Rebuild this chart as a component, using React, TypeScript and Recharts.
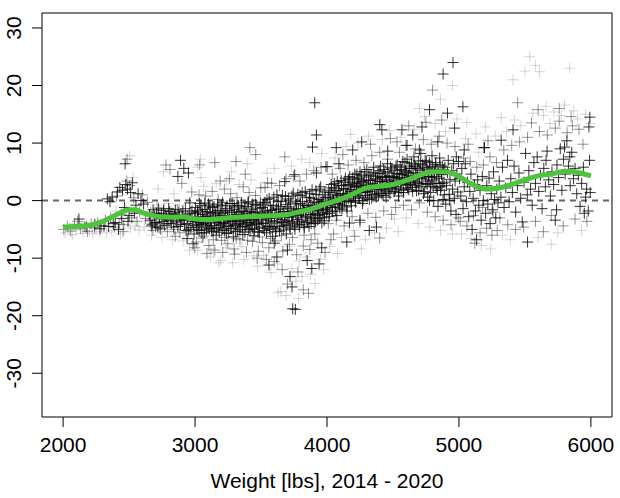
import React from "react";
import { ComposedChart, Scatter, Line, XAxis, YAxis, ReferenceArea } from "recharts";

type P = [number, number];

const xTicks = [2000, 3000, 4000, 5000, 6000];
const yTicks = [-30, -20, -10, 0, 10, 20, 30];
const xLabel = "Weight [lbs], 2014 - 2020";

// smoothed trend (green curve)
const trendX = [2000, 2100, 2200, 2300, 2400, 2500, 2550, 2600, 2700, 2800, 2900, 3000, 3100, 3200, 3300, 3400, 3500, 3600, 3700, 3800, 3900, 4000, 4100, 4200, 4300, 4400, 4500, 4600, 4700, 4800, 4900, 5000, 5100, 5200, 5300, 5400, 5500, 5600, 5700, 5800, 5900, 6000];
const trendY = [-4.6, -4.5, -4.3, -3.6, -2.5, -1.6, -1.6, -2.1, -2.7, -2.9, -2.8, -3.2, -3.3, -3.1, -2.9, -2.8, -2.7, -2.6, -2.4, -1.9, -1.3, -0.5, 0.2, 1.2, 2.2, 2.5, 2.8, 3.5, 4.4, 5.0, 5.0, 4.2, 2.8, 2.0, 2.2, 2.8, 3.6, 4.3, 4.6, 5.1, 4.9, 4.3];

// ---- dark points ----
const darkLow: P[] = [
  [2120,-3.2],[2175,-4.6],[2240,-4.1],[2280,-4.9],
  [2310,-4.4],[2335,0.3],[2355,-0.2],[2372,0.6],[2395,-3.8],[2412,1.5],[2430,2.3],[2450,1.8],[2465,-1.2],[2475,2.8],[2488,2.0],[2500,-2.6],[2512,1.4],[2525,3.1],[2540,-2.2],[2552,-0.8],[2568,1.2],[2590,0.0],[2610,-0.6],[2345,-4.5],[2380,-4.0],[2420,-5.0],[2445,-3.1],[2470,6.4],[2492,-3.6],
  [2660,-3.4],[2675,-4.1],[2690,-2.6],[2705,-3.8],[2718,-4.6],[2730,-3.0],[2745,-2.2],[2758,-3.6],[2770,-4.3],[2783,-2.8],[2795,-3.3],[2808,-1.9],[2820,-4.0],[2833,-3.1],[2845,-2.4],[2858,-3.7],[2870,-4.5],[2882,-2.7],[2895,-3.4],[2908,-1.8],[2920,-4.1],[2932,-5.2],[2945,-3.0],[2956,-2.3],[2968,-4.7],[2980,-3.6],[2992,-5.8],[2940,-6.6],[2985,-7.5],[2960,-0.4],[2950,4.8],[2890,7.0],[2915,5.6],[2870,4.2],
];
const darkCore: P[] = [
  [3005,-3.1],[3012,-4.6],[3018,-1.8],[3025,-2.9],[3031,-5.2],[3038,-3.8],[3044,-0.9],[3050,-4.1],[3057,-2.4],[3063,-3.3],[3070,-5.6],[3076,-1.5],[3083,-4.4],[3089,-2.7],[3096,-3.6],[3102,-0.6],[3108,-4.9],[3115,-2.1],[3121,-3.9],[3128,-5.4],[3134,-1.2],[3141,-3.0],[3147,-4.3],[3154,-2.5],[3160,-6.0],[3167,-3.5],[3173,-1.7],[3180,-4.7],[3186,-2.9],[3193,-3.8],[3199,-0.8],[3206,-5.1],[3212,-2.2],[3219,-4.0],[3225,-3.2],[3232,-1.4],[3238,-5.7],[3245,-2.6],[3251,-4.5],[3258,-3.4],[3264,-0.5],[3271,-4.8],[3277,-2.0],[3284,-3.7],[3290,-6.3],[3297,-1.1],[3303,-3.1],[3310,-4.2],[3316,-2.4],[3323,-5.3],[3329,-0.9],[3336,-3.6],[3342,-4.6],[3349,-1.9],[3355,-2.8],[3362,-5.9],[3368,-3.3],[3375,-1.3],[3381,-4.4],[3388,-2.3],[3394,-3.9],[3401,-0.4],[3407,-5.0],[3414,-2.7],[3420,-3.5],[3427,-1.6],[3433,-4.8],[3440,-2.1],[3446,-6.1],[3453,-3.2],[3459,-0.7],[3466,-4.1],[3472,-2.5],[3479,-3.7],[3485,-5.5],[3492,-1.4],
  [3503,-3.4],[3510,-1.2],[3516,-4.8],[3523,-2.5],[3529,-0.3],[3536,-3.9],[3542,-5.6],[3549,-2.0],[3555,-3.1],[3562,0.4],[3568,-4.5],[3575,-1.7],[3581,-2.9],[3588,-6.2],[3594,-0.8],[3601,-3.6],[3607,-2.2],[3614,-4.9],[3620,1.0],[3627,-3.0],[3633,-1.5],[3640,-5.3],[3646,-2.6],[3653,-0.1],[3659,-3.8],[3666,-1.9],[3672,-4.3],[3679,-2.8],[3685,0.7],[3692,-5.8],[3698,-2.3],[3705,-3.5],[3711,-1.1],[3718,-4.6],[3724,-0.4],[3731,-2.7],[3737,-3.9],[3744,1.3],[3750,-1.8],[3757,-5.0],[3763,-2.4],[3770,-0.6],[3776,-3.3],[3783,-1.4],[3789,-4.2],[3796,0.9],[3802,-2.1],[3809,-3.6],[3815,-0.2],[3822,-1.6],[3828,-4.7],[3835,1.6],[3841,-2.8],[3848,-0.8],[3854,-3.4],[3861,-1.2],[3867,0.5],[3874,-2.4],[3880,-4.0],[3887,1.9],[3893,-1.0],[3900,-2.9],[3906,-0.3],[3913,-3.7],[3919,1.1],[3926,-1.7],[3932,-2.6],[3939,0.2],[3945,-3.1],[3952,2.4],[3958,-0.9],[3965,-2.0],[3971,-0.1],[3978,-3.5],[3984,1.5],[3991,-1.3],[3997,-2.3],
  [3720,-13.2],[3735,-15.0],[3740,-18.8],[3760,-18.9],[3907,17.0],[3920,11.4],[3890,9.3],[3680,3.3],[3755,4.5],[3920,4.8],[3850,-10.4],[3885,-11.8],[3940,-11.0],[3620,-9.8],[3560,-11.2],[3600,-7.4],[3700,-8.6],[3960,-8.2],
];
const darkFillA: P[] = [
  [2655,-2.4],[2668,-4.4],[2682,-1.6],[2694,-3.9],[2708,-2.2],[2721,-1.3],[2735,-4.8],[2748,-3.2],[2761,-1.7],[2774,-2.5],[2787,-4.0],[2800,-1.4],[2812,-3.5],[2825,-2.2],[2838,-4.6],[2851,-1.6],[2863,-3.0],[2876,-2.0],[2889,-4.2],[2901,-2.5],[2914,-3.3],[2927,-1.4],[2939,-4.0],[2952,-5.0],[2964,-3.1],[2977,-1.8],[2989,-4.3],[2998,-2.2],
  [3003,-1.2],[3009,-3.6],[3016,-5.0],[3022,-2.0],[3028,-4.2],[3035,-0.5],[3041,-3.0],[3047,-5.6],[3054,-1.6],[3060,-4.0],[3067,-2.8],[3073,-0.4],[3079,-3.5],[3086,-5.1],[3092,-1.9],[3099,-4.6],[3105,-2.9],[3112,-0.9],[3118,-3.3],[3125,-4.8],[3131,-2.2],[3138,-5.3],[3144,-1.0],[3151,-3.7],[3157,-2.0],[3164,-4.9],[3170,-0.6],[3177,-3.1],[3183,-5.5],[3190,-1.8],[3196,-4.2],[3203,-2.6],[3209,-0.3],[3216,-3.9],[3222,-5.2],[3229,-2.0],[3235,-4.4],[3242,-0.9],[3248,-3.0],[3255,-5.6],[3261,-1.7],[3268,-3.6],[3274,-4.9],[3281,-0.5],[3287,-2.5],[3294,-4.3],[3300,-1.5],[3307,-5.4],[3313,-3.2],[3320,-0.8],[3326,-4.0],[3333,-2.1],[3339,-5.0],[3346,-3.4],[3352,-0.4],[3359,-4.5],[3365,-1.8],[3372,-3.0],[3378,-5.5],[3385,-1.0],[3391,-4.1],[3398,-2.6],[3404,-0.2],[3411,-3.8],[3417,-5.3],[3424,-1.9],[3430,-4.3],[3437,-0.6],[3443,-3.3],[3450,-5.0],[3456,-2.0],[3463,-3.9],[3469,-0.9],[3476,-5.4],[3482,-2.8],[3489,-4.6],[3495,-0.3],
];
const darkFillB: P[] = [
  [3506,-2.2],[3513,-4.0],[3519,-0.6],[3526,-5.2],[3532,-1.8],[3539,-3.2],[3545,0.2],[3552,-4.4],[3558,-2.6],[3565,-5.0],[3571,-0.9],[3578,-3.5],[3584,-1.6],[3591,-4.7],[3597,0.6],[3604,-2.9],[3610,-5.4],[3617,-1.3],[3623,-3.9],[3630,-0.2],[3636,-2.4],[3643,-4.5],[3649,-1.0],[3656,-3.3],[3662,0.9],[3669,-5.1],[3675,-2.0],[3682,-3.7],[3688,-0.7],[3695,-4.1],[3701,-1.4],[3708,0.3],[3714,-2.9],[3721,-4.9],[3727,-1.9],[3734,0.8],[3740,-3.6],[3747,-2.2],[3753,-4.4],[3760,-0.1],[3766,-1.6],[3773,-3.9],[3779,1.1],[3786,-2.6],[3792,-4.6],[3799,-0.5],[3805,-3.0],[3812,1.4],[3818,-1.9],[3825,-4.2],[3831,-0.9],[3838,-2.5],[3844,0.6],[3851,-3.8],[3857,-1.5],[3864,-4.5],[3870,1.2],[3877,-0.8],[3883,-3.1],[3890,-1.8],[3896,0.4],[3903,-4.0],[3909,-2.2],[3916,1.7],[3922,-0.6],[3929,-3.4],[3935,-1.3],[3942,2.0],[3948,-2.4],[3955,-0.2],[3961,-3.9],[3968,1.0],[3974,-1.6],[3981,-2.9],[3987,0.5],[3994,-0.9],
];
const darkHigh: P[] = [
  [4003,-1.6],[4009,0.6],[4016,-2.8],[4022,1.4],[4029,-0.4],[4035,2.2],[4042,-1.9],[4048,0.1],[4055,3.0],[4061,-1.1],[4068,1.7],[4074,-2.6],[4081,0.9],[4087,2.6],[4094,-0.7],[4100,1.2],[4107,3.5],[4113,-1.5],[4120,0.4],[4126,2.1],[4133,-0.2],[4139,3.9],[4146,1.0],[4152,-1.8],[4159,2.8],[4165,0.3],[4172,4.2],[4178,1.6],[4185,-0.9],[4191,3.2],[4198,0.8],[4204,2.4],[4211,4.6],[4217,-0.3],[4224,1.9],[4230,3.6],[4237,0.6],[4243,2.9],[4250,5.0],[4256,1.4],[4263,3.3],[4269,-0.5],[4276,2.2],[4282,4.1],[4289,0.9],[4295,2.7],[4302,5.4],[4308,1.6],[4315,3.5],[4321,0.2],[4328,2.5],[4334,4.4],[4341,1.1],[4347,3.0],[4354,5.8],[4360,1.9],[4367,3.8],[4373,0.6],[4380,2.4],[4386,4.7],[4393,1.3],[4399,3.3],[4406,6.0],[4412,2.0],[4419,4.0],[4425,0.9],[4432,2.8],[4438,5.0],[4445,1.7],[4451,3.6],[4458,6.4],[4464,2.3],[4471,4.3],[4477,1.2],[4484,3.1],[4490,5.5],[4497,2.6],
  [4070,9.2],[4195,8.8],[4263,10.2],[4400,13.2],[4416,12.3],[4000,5.9],[4150,-7.2],[4375,-4.6],[4170,-3.9],[4320,-5.2],[4250,-3.4],[4460,8.6],[4090,6.4],
  [4503,4.2],[4510,1.6],[4516,3.3],[4523,6.0],[4529,2.4],[4536,4.7],[4542,0.8],[4549,3.8],[4555,5.8],[4562,2.0],[4568,4.5],[4575,6.8],[4581,1.4],[4588,3.6],[4594,5.2],[4601,2.7],[4607,7.2],[4614,4.0],[4620,1.9],[4627,5.6],[4633,3.1],[4640,6.5],[4646,2.3],[4653,4.8],[4659,7.6],[4666,3.4],[4672,5.9],[4679,1.7],[4685,4.4],[4692,6.9],[4698,2.9],[4705,5.3],[4711,8.2],[4718,3.8],[4724,6.2],[4731,1.2],[4737,4.6],[4744,7.0],[4750,3.0],[4757,5.5],[4763,0.6],[4770,4.2],[4776,6.6],[4783,2.5],[4789,5.0],[4796,7.8],[4802,3.6],[4809,0.0],[4815,4.8],[4822,6.3],[4828,2.2],[4835,5.4],[4841,-1.0],[4848,3.9],[4854,7.4],[4861,1.8],[4867,4.5],[4874,6.0],[4880,0.2],[4887,3.2],[4893,5.8],[4900,-0.6],[4906,2.6],[4913,4.9],[4919,7.0],[4926,1.1],[4932,3.7],[4939,-1.8],[4945,5.2],[4952,2.0],[4958,6.4],[4965,0.4],[4971,3.4],[4978,-2.4],[4984,4.6],[4991,1.5],[4997,6.8],
  [4568,12.3],[4650,11.4],[4700,8.8],[4777,15.8],[4913,15.2],[4967,12.6],[4880,22.0],[4955,24.0],[4980,7.6],[4777,0.0],[4930,0.0],[4600,9.6],[4840,10.2],[4720,12.8],
];
const darkFillC: P[] = [
  [4006,-0.8],[4013,1.8],[4019,-2.2],[4026,0.3],[4032,2.8],[4039,-1.2],[4045,1.0],[4052,-0.2],[4058,2.2],[4065,-1.8],[4071,0.6],[4078,3.3],[4084,-0.5],[4091,1.8],[4097,-1.3],[4104,0.2],[4110,2.6],[4117,-0.9],[4123,1.2],[4130,3.2],[4136,0.0],[4143,2.0],[4149,-1.1],[4156,1.3],[4162,3.7],[4169,0.8],[4175,2.6],[4182,-0.2],[4188,1.9],[4195,4.0],[4201,1.0],[4208,3.0],[4214,0.0],[4221,2.4],[4227,4.6],[4234,1.6],[4240,3.8],[4247,0.4],[4253,2.6],[4260,4.4],[4266,1.8],[4273,0.0],[4279,3.2],[4286,5.0],[4292,1.4],[4299,3.6],[4305,0.6],[4312,2.6],[4318,4.6],[4325,1.6],[4331,3.5],[4338,0.4],[4344,2.2],[4351,4.9],[4357,2.8],[4364,1.0],[4370,4.2],[4377,2.0],[4383,3.6],[4390,0.8],[4396,5.2],[4403,2.4],[4409,4.0],[4416,1.2],[4422,3.3],[4429,5.4],[4435,2.0],[4442,4.2],[4448,0.6],[4455,2.8],[4461,4.8],[4468,1.5],[4474,3.4],[4481,5.8],[4487,2.2],[4494,4.0],
  [4506,3.0],[4513,5.2],[4519,2.0],[4526,4.0],[4532,6.2],[4539,3.2],[4545,1.4],[4552,4.6],[4558,2.8],[4565,5.4],[4571,3.6],[4578,1.8],[4584,4.8],[4591,6.6],[4597,3.0],[4604,5.0],[4610,2.2],[4617,4.4],[4623,6.0],[4630,2.8],[4636,4.2],[4643,5.6],[4649,1.6],[4656,3.8],[4662,6.2],[4669,2.6],[4675,4.8],[4682,3.2],[4688,5.6],[4695,1.8],[4701,4.0],[4708,6.4],[4714,2.4],[4721,4.6],[4727,3.0],[4734,5.8],[4740,1.6],[4747,4.2],[4753,6.8],[4760,2.8],[4766,5.0],[4773,3.4],[4779,5.8],[4786,1.4],[4792,4.0],[4799,6.0],[4805,2.4],[4812,5.2],[4818,3.0],[4825,6.6],[4831,4.2],[4838,1.8],[4844,5.0],[4851,3.0],[4857,6.2],[4864,2.4],[4870,4.6],[4877,3.0],[4883,5.4],[4890,1.0],
];
const darkTop: P[] = [
  [5005,3.8],[5014,0.8],[5022,5.6],[5031,-1.4],[5040,2.4],[5048,6.4],[5057,-0.2],[5065,3.2],[5074,-2.8],[5083,1.6],[5091,4.6],[5100,-5.0],[5108,0.4],[5117,2.8],[5125,-1.8],[5134,-6.8],[5142,3.6],[5151,-0.8],[5160,1.8],[5168,-3.4],[5177,4.2],[5185,0.0],[5194,9.2],[5202,-2.2],[5211,2.6],[5219,-0.6],[5228,3.9],[5236,-4.0],[5245,1.2],[5253,-1.6],[5262,5.0],[5270,0.2],[5279,-3.0],[5287,2.0],[5296,-0.4],[5040,8.8],[5030,16.3],
  [5305,3.4],[5318,0.6],[5330,5.8],[5342,-1.2],[5355,2.2],[5368,7.0],[5380,-0.2],[5393,3.8],[5405,1.4],[5418,6.0],[5430,-2.0],[5443,2.6],[5455,4.8],[5468,0.4],[5480,-3.7],[5493,3.2],[5505,8.2],[5518,1.0],[5520,-7.2],[5530,5.2],[5543,2.0],[5555,-0.8],[5568,6.6],[5580,3.0],[5593,7.6],[5605,1.6],[5618,4.4],[5630,-1.4],[5643,5.6],[5655,2.4],[5660,7.0],[5668,8.6],[5680,3.6],[5693,0.8],[5705,5.0],[5718,2.8],[5730,-3.4],[5740,-1.6],[5743,6.2],[5755,4.0],[5768,9.0],[5780,1.8],[5793,7.2],[5800,9.3],[5805,4.6],[5818,10.4],[5830,6.0],[5840,7.6],[5843,2.6],[5855,8.4],[5868,3.8],[5880,5.6],[5893,1.2],[5905,4.4],[5918,-1.0],[5930,3.0],[5943,5.8],[5950,-2.2],[5960,0.6],[5968,2.0],[5980,-1.8],[5990,7.0],[5995,1.4],[5985,12.8],[5992,14.5],[5320,10.5],[5410,12.3],[5190,9.2],
];

// ---- medium points ----
const midLow: P[] = [
  [2005,-5.0],[2032,-4.4],[2058,-5.3],[2086,-4.1],[2110,-3.6],[2133,-4.9],[2160,-4.5],[2185,-5.4],[2212,-4.0],[2238,-4.7],[2262,-3.8],[2290,-4.4],
  [2320,-3.4],[2360,-2.9],[2390,-4.6],[2405,0.8],[2440,-2.4],[2460,-4.2],[2483,3.4],[2505,2.6],[2520,-3.0],[2535,0.5],[2560,-3.6],[2580,-2.0],[2600,1.0],[2625,-3.1],[2640,-0.3],[2485,7.2],[2455,-5.4],[2425,-4.1],
  [2665,-2.0],[2680,-5.2],[2700,-4.6],[2725,-1.6],[2740,-5.0],[2765,-1.4],[2790,-5.4],[2815,-2.6],[2840,-5.0],[2865,-1.5],[2885,-5.6],[2905,-3.0],[2925,-2.6],[2948,-5.4],[2970,-2.0],[2995,-3.0],[2975,1.5],[2900,3.0],[2810,5.4],[2780,6.2],[2998,-8.2],[2850,-6.2],
];
const midCore: P[] = [
  [3010,-7.2],[3030,1.0],[3055,-6.5],[3080,0.8],[3105,-7.8],[3130,1.6],[3150,-8.6],[3175,0.2],[3200,-6.9],[3222,2.0],[3248,-7.5],[3270,1.2],[3295,-8.4],[3318,0.5],[3340,-6.8],[3365,2.4],[3390,-9.0],[3410,1.4],[3435,-7.1],[3458,0.9],[3480,-8.8],[3498,2.2],[3090,-9.2],[3210,-9.0],[3300,-9.3],[3470,-10.0],[3150,6.6],[3190,3.4],[3310,6.8],[3415,9.2],[3460,8.0],[3550,3.1],[3035,6.2],[3260,3.8],[3380,4.6],
  [3510,-7.3],[3530,2.3],[3560,-8.2],[3580,3.0],[3610,-7.0],[3640,2.6],[3665,-8.8],[3690,3.8],[3715,-7.6],[3745,4.2],[3770,-9.4],[3795,3.4],[3820,-7.9],[3845,4.6],[3870,-8.5],[3900,5.2],[3930,-7.4],[3955,5.8],[3985,-9.0],[3680,7.6],[3540,-10.2],[3660,-12.0],[3700,-14.5],[3820,-15.5],[3860,-16.1],[3780,-12.4],[3990,5.9],[3600,-10.6],[3880,-6.8],
  [3062,-6.2],[3138,-6.8],[3226,-6.4],[3312,-6.6],[3398,-6.9],[3488,-6.3],[3572,-6.6],[3654,-6.1],[3738,-6.4],[3826,-6.0],[3908,-5.8],
];
const midHigh: P[] = [
  [4010,-4.0],[4040,4.6],[4070,-3.4],[4100,5.6],[4130,-4.4],[4160,6.2],[4190,-2.8],[4220,7.0],[4250,-3.8],[4280,6.6],[4310,-2.2],[4340,7.8],[4370,-2.9],[4400,8.4],[4430,-1.8],[4460,7.2],[4490,-2.4],[4400,-6.5],[4050,-5.8],[4210,-6.2],[4330,9.8],[4480,10.8],[4120,8.0],[4030,-6.8],
  [4520,-1.2],[4550,8.4],[4580,-0.8],[4610,9.6],[4640,-1.6],[4670,9.0],[4700,-0.4],[4730,10.6],[4760,-2.0],[4790,9.8],[4820,-2.8],[4850,11.2],[4880,-3.4],[4910,10.0],[4940,-4.2],[4970,9.4],[4995,-3.0],[4800,19.2],[4750,13.6],[4870,14.0],[4620,13.0],[4530,10.2],
];
const midTop: P[] = [
  [5010,-3.6],[5035,7.4],[5060,-4.4],[5085,6.8],[5110,-2.6],[5135,5.8],[5160,-5.6],[5185,6.2],[5210,-4.8],[5235,7.6],[5260,-2.0],[5285,6.6],[5120,-7.4],[5250,-6.0],[5070,9.8],[5220,10.4],[5180,-1.2],[5290,-5.2],
  [5310,-3.0],[5340,8.8],[5370,-4.2],[5400,9.6],[5430,-5.0],[5460,10.2],[5490,-4.6],[5520,11.0],[5550,13.5],[5580,-3.6],[5610,12.0],[5640,-5.4],[5670,11.4],[5700,-2.6],[5730,12.6],[5760,13.8],[5790,-4.4],[5820,11.8],[5850,14.6],[5880,-3.2],[5910,12.4],[5940,9.8],[5970,-3.6],[5445,17.0],[5600,15.8],[5760,16.0],[5860,13.0],
];

// ---- light points ----
const lightLow: P[] = [
  [2015,-5.6],[2045,-4.8],[2070,-5.9],[2098,-5.1],[2125,-4.2],[2150,-5.7],[2175,-3.9],[2200,-5.2],[2225,-5.8],[2250,-4.9],[2275,-5.4],
  [2330,-5.6],[2370,-5.2],[2400,-1.8],[2435,-5.8],[2478,-1.5],[2510,-4.8],[2545,-4.4],[2575,-5.1],[2615,-4.6],[2650,-3.6],[2505,7.8],[2530,4.0],
  [2670,-6.0],[2710,-0.8],[2750,-6.4],[2800,-0.5],[2830,-6.8],[2880,-0.8],[2910,-7.0],[2960,-8.6],[2720,2.0],[2840,1.2],[3020,5.8],[3040,7.2],[2760,5.0],
];
const lightCore: P[] = [
  [3020,-8.6],[3065,2.5],[3115,-9.8],[3160,3.0],[3195,-10.4],[3240,3.4],[3285,-10.8],[3335,2.8],[3370,-10.2],[3425,3.6],[3475,-11.4],[3120,-8.4],[3235,-8.2],[3355,-8.0],[3445,-9.6],[3140,-9.0],[3275,5.0],[3395,6.4],[3045,4.0],[3180,-10.8],
  [3520,-9.5],[3575,-12.5],[3625,-11.0],[3650,-15.8],[3690,-16.5],[3735,-11.8],[3765,-14.0],[3790,-10.5],[3810,-13.2],[3840,-9.8],[3875,-12.8],[3910,-14.4],[3950,-10.2],[3975,-12.0],[3545,4.8],[3600,5.6],[3730,6.0],[3810,7.2],[3870,6.6],[3960,8.2],[3630,-16.0],[3785,-17.0],[3700,-8.0],
];
const lightHigh: P[] = [
  [4020,-8.0],[4060,7.4],[4110,-6.4],[4145,9.4],[4200,-5.2],[4235,10.0],[4290,-6.8],[4315,11.2],[4360,-5.6],[4420,10.6],[4450,-4.8],[4475,12.2],[4080,-9.2],[4260,-8.4],[4180,11.5],
  [4510,-3.2],[4560,11.0],[4600,-3.0],[4660,12.4],[4690,-4.0],[4740,14.6],[4780,-4.6],[4820,13.4],[4860,-5.2],[4900,12.0],[4950,-5.8],[4985,14.2],[4860,17.6],[4700,16.0],[4950,20.0],[4540,-5.4],
];
const lightTop: P[] = [
  [5020,-5.8],[5050,10.8],[5090,-6.6],[5130,11.6],[5170,-7.8],[5200,12.8],[5240,-8.4],[5275,11.2],[5150,8.4],[5060,13.6],
  [5330,-6.0],[5360,12.0],[5390,-6.8],[5420,14.0],[5470,13.0],[5500,22.5],[5536,25.0],[5560,15.2],[5580,23.5],[5610,22.4],[5640,14.8],[5660,16.4],[5690,13.4],[5720,15.4],[5750,-5.6],[5775,14.8],[5800,16.6],[5840,23.0],[5870,15.6],[5900,14.2],[5930,-5.2],[5960,15.0],[5995,13.4],[5410,21.0],[5320,14.4],[5700,-7.6],[5600,-6.4],
];

const toObj = (arr: P[]) => arr.map(([x, y]) => ({ x, y }));
const darkPts = toObj([...darkLow, ...darkCore, ...darkHigh, ...darkTop]);
const fillPts = toObj([...darkFillA, ...darkFillB, ...darkFillC]);
const midPts = toObj([...midLow, ...midCore, ...midHigh, ...midTop]);
const lightPts = toObj([...lightLow, ...lightCore, ...lightHigh, ...lightTop]);
const trend = trendX.map((x, i) => ({ x, y: trendY[i] }));
const zeroLine = [{ x: 1840, y: 0 }, { x: 6160, y: 0 }];

const FONT = "'Liberation Sans', Arial, Helvetica, sans-serif";

const makePlus = (opacity: number) => (props: any) => {
  const { cx, cy } = props;
  if (cx == null || cy == null) return <g />;
  const a = 5.5;
  return (
    <path
      d={`M${cx - a},${cy}H${cx + a}M${cx},${cy - a}V${cy + a}`}
      stroke="#000"
      strokeOpacity={opacity}
      strokeWidth={1}
      fill="none"
    />
  );
};

const YTick = (props: any) => {
  const { x, y, payload } = props;
  return (
    <text
      x={x}
      y={y}
      transform={`rotate(-90, ${x}, ${y})`}
      textAnchor="middle"
      fontSize={21}
      fontFamily={FONT}
      fill="#000"
    >
      {payload.value}
    </text>
  );
};

export default function App() {
  return (
    <div style={{ position: "absolute", left: 0, top: 0, width: 620, height: 498, background: "#fff" }}>
      <ComposedChart width={620} height={498} margin={{ top: 13, right: 8, bottom: 0, left: 0 }}>
        <XAxis
          type="number"
          dataKey="x"
          domain={[1840, 6160]}
          ticks={xTicks}
          allowDataOverflow
          height={81}
          axisLine={false}
          tickLine={{ stroke: "#000" }}
          tickSize={10}
          tickMargin={10}
          tick={{ fontSize: 21, fontFamily: FONT, fill: "#000" }}
          label={{ value: xLabel, position: "insideBottom", offset: 10, fontSize: 21, fontFamily: FONT, fill: "#000" }}
        />
        <YAxis
          type="number"
          dataKey="y"
          domain={[-37.6, 32.6]}
          ticks={yTicks}
          allowDataOverflow
          width={42}
          axisLine={false}
          tickLine={{ stroke: "#000" }}
          tickSize={10}
          tickMargin={11}
          tick={<YTick />}
        />
        <Line
          data={zeroLine}
          dataKey="y"
          type="linear"
          stroke="#666"
          strokeWidth={2}
          strokeDasharray="6 5"
          dot={false}
          activeDot={false}
          isAnimationActive={false}
          zIndex={300}
        />
        <Scatter data={lightPts} dataKey="y" shape={makePlus(0.16)} isAnimationActive={false} zIndex={600} />
        <Scatter data={midPts} dataKey="y" shape={makePlus(0.42)} isAnimationActive={false} zIndex={601} />
        <Scatter data={darkPts} dataKey="y" shape={makePlus(0.8)} isAnimationActive={false} zIndex={602} />
        <Scatter data={fillPts} dataKey="y" shape={makePlus(0.75)} isAnimationActive={false} zIndex={603} />
        <Line
          data={trend}
          dataKey="y"
          type="monotone"
          stroke="#4cc43c"
          strokeWidth={5}
          dot={false}
          activeDot={false}
          isAnimationActive={false}
          zIndex={900}
        />
        <ReferenceArea x1={1840} x2={6160} y1={-37.6} y2={32.6} fill="none" stroke="#000" strokeWidth={1} zIndex={950} />
      </ComposedChart>
    </div>
  );
}
